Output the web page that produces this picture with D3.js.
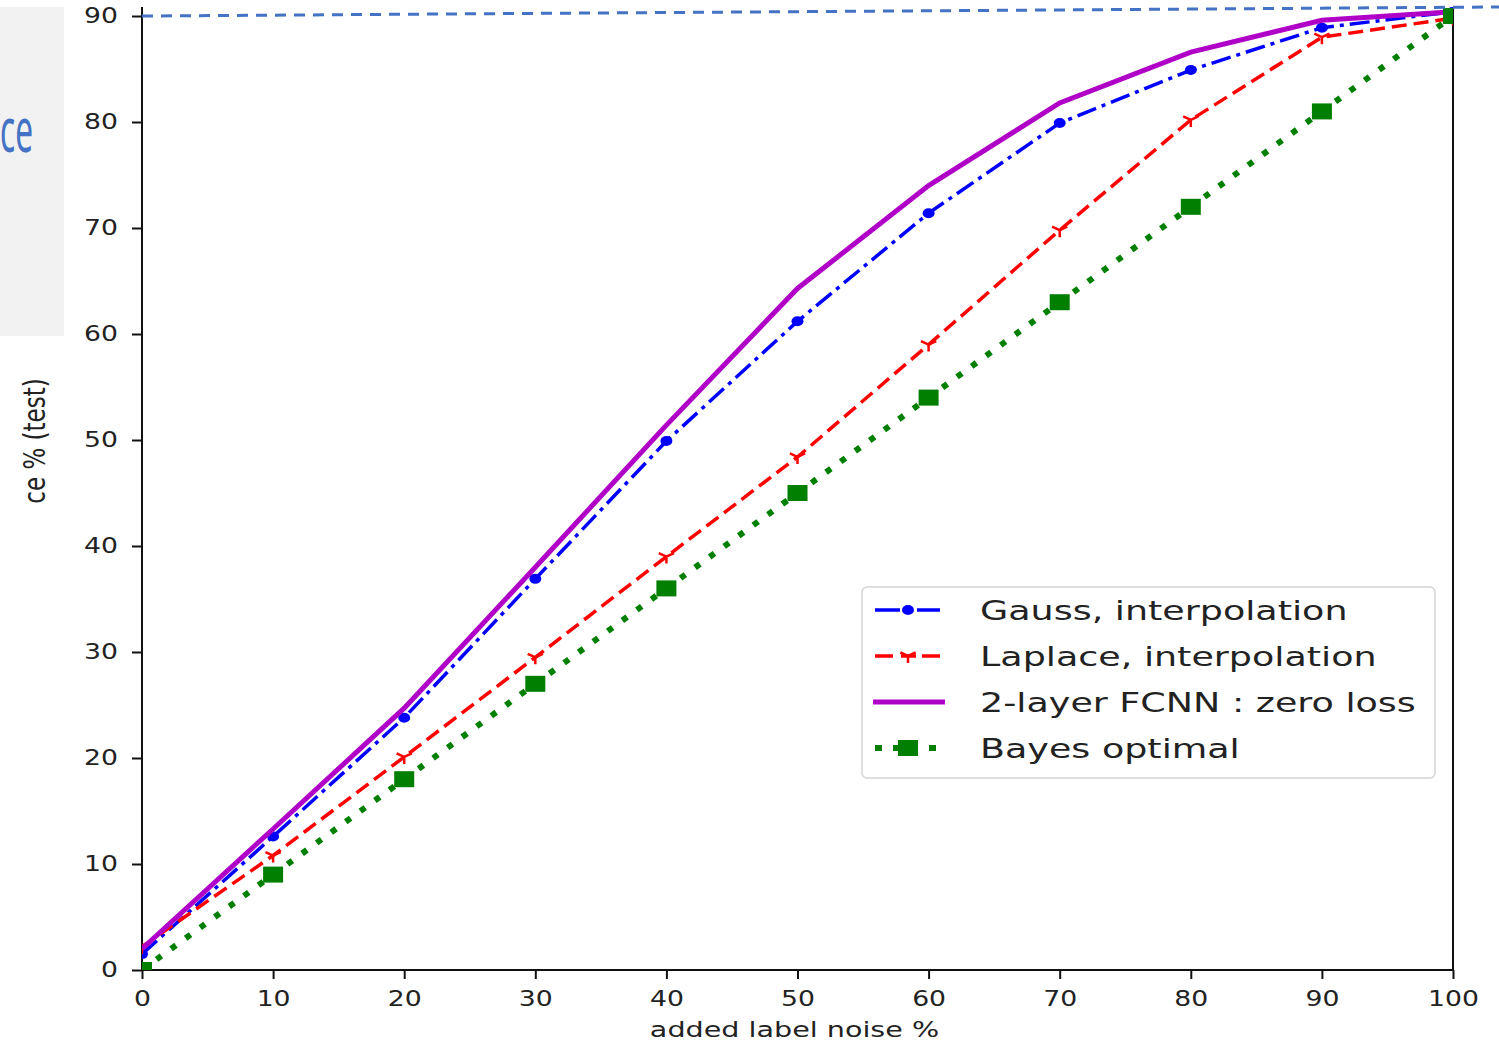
<!DOCTYPE html>
<html>
<head>
<meta charset="utf-8">
<script src="https://cdn.jsdelivr.net/npm/d3@7"></script>
<style>
  body { margin: 0; background: #fff; }
  svg { display: block; }
  text { font-family: "DejaVu Sans", sans-serif; fill: #222; }
</style>
</head>
<body>
<svg id="chart" width="1499" height="1041"></svg>
<script>
// values
const noise   = [0, 10, 20, 30, 40, 50, 60, 70, 80, 90, 100];
const gauss   = [1.5, 12.6, 23.8, 36.9, 49.9, 61.2, 71.4, 79.9, 84.9, 88.9, 90.4];
const laplace = [2.2, 10.8, 20.1, 29.5, 39.0, 48.4, 59.0, 69.8, 80.2, 88.0, 89.8];
const fcnn    = [2.0, 13.3, 24.7, 38.0, 51.4, 64.3, 74.0, 81.8, 86.6, 89.6, 90.4];
const bayes   = [0, 9, 18, 27, 36, 45, 54, 63, 72, 81, 90];
const seriesNames = ["Gauss, interpolation", "Laplace, interpolation", "2-layer FCNN : zero loss", "Bayes optimal"];
const xTicks = [0, 10, 20, 30, 40, 50, 60, 70, 80, 90, 100];
const yTicks = [0, 10, 20, 30, 40, 50, 60, 70, 80, 90];
const refLevel = 90;

const svg = d3.select("#chart");
const plot = { left: 142, right: 1453, top: 7, bottom: 970 };
const K = 1.3; // the picture is stretched sideways

const x = d3.scaleLinear().domain([0, 100]).range([plot.left, plot.right]);
const y = d3.scaleLinear().domain([0, 90.85]).range([plot.bottom, plot.top]);

// stretch text glyphs horizontally
function stretch(sel, k) {
  sel.each(function () {
    const w = this.getComputedTextLength();
    d3.select(this).attr("textLength", w * k).attr("lengthAdjust", "spacingAndGlyphs");
  });
}

// grey slide panel and its cropped title
svg.append("rect").attr("x", 0).attr("y", 7).attr("width", 64).attr("height", 329).attr("fill", "#f2f2f2");
svg.append("text").attr("x", 0).attr("y", 152)
  .attr("textLength", 33).attr("lengthAdjust", "spacingAndGlyphs")
  .style("font-family", "'Noto Sans', sans-serif").style("font-size", "62px").style("fill", "#4472c4")
  .text("ce");

svg.append("defs").append("clipPath").attr("id", "clip")
  .append("rect").attr("x", plot.left).attr("y", plot.top)
  .attr("width", plot.right - plot.left).attr("height", plot.bottom - plot.top);

// axes
const xAxis = svg.append("g").attr("transform", `translate(0,${plot.bottom})`)
  .call(d3.axisBottom(x).tickValues(xTicks).tickSize(9).tickPadding(12).tickSizeOuter(0));
const yAxis = svg.append("g").attr("transform", `translate(${plot.left},0)`)
  .call(d3.axisLeft(y).tickValues(yTicks).tickSize(10).tickPadding(14).tickSizeOuter(0));
[xAxis, yAxis].forEach(a => {
  a.select(".domain").remove();
  a.selectAll(".tick line").attr("stroke", "#111").attr("stroke-width", 2);
  a.selectAll(".tick text").style("font-size", "20.5px").style("fill", "#222")
    .style("font-family", "'DejaVu Sans', sans-serif");
  stretch(a.selectAll(".tick text"), K);
});

// spines (no top one)
const spines = svg.append("g").attr("stroke", "#111").attr("stroke-width", 2).attr("fill", "none");
spines.append("line").attr("x1", plot.left).attr("x2", plot.left).attr("y1", plot.top).attr("y2", plot.bottom + 1);
spines.append("line").attr("x1", plot.right).attr("x2", plot.right).attr("y1", plot.top).attr("y2", plot.bottom + 1);
spines.append("line").attr("x1", plot.left - 1).attr("x2", plot.right + 1).attr("y1", plot.bottom).attr("y2", plot.bottom);

// axis labels
const xl = svg.append("text").attr("x", (plot.left + plot.right) / 2 - 3).attr("y", 1037)
  .attr("text-anchor", "middle").style("font-size", "22px").text("added label noise %");
stretch(xl, K);
svg.append("text").attr("transform", `translate(45,441) scale(${K},1) rotate(-90)`)
  .attr("text-anchor", "middle").style("font-size", "23px").text("ce % (test)");

// series
const styles = [
  { values: gauss,   color: "#0000ff", width: 3.5, dash: "20,6,4,6", marker: "circle",
    legend: { x1: 875, x2: 940, dash: "25,17,23" } },
  { values: laplace, color: "#ff0000", width: 3.5, dash: "15,7",     marker: "tri",
    legend: { x1: 875, x2: 942, dash: "18,8,15,6" } },
  { values: fcnn,    color: "#b000c8", width: 5,   dash: null,       marker: null,
    legend: { x1: 873, x2: 945, dash: null } },
  { values: bayes,   color: "#007f00", width: 6,   dash: "6,12",     marker: "square",
    legend: { x1: 875, x2: 936, dash: "7,11" } }
];

const line = d3.line().x((d, i) => x(noise[i])).y(d => y(d));
const plotG = svg.append("g").attr("clip-path", "url(#clip)");

function drawMarker(g, type, color, cx, cy) {
  if (type === "circle") {
    g.append("ellipse").attr("cx", cx).attr("cy", cy).attr("rx", 6).attr("ry", 5).attr("fill", color);
  } else if (type === "square") {
    g.append("rect").attr("x", cx - 10).attr("y", cy - 8).attr("width", 20).attr("height", 16).attr("fill", color);
  } else if (type === "tri") {
    const r = 7;
    g.append("path")
      .attr("d", `M${cx},${cy}L${cx},${cy + r}M${cx},${cy}L${cx - 0.87 * r * 1.25},${cy - 0.5 * r}M${cx},${cy}L${cx + 0.87 * r * 1.25},${cy - 0.5 * r}`)
      .attr("stroke", color).attr("stroke-width", 2.5).attr("fill", "none");
  }
}

styles.forEach(s => {
  const g = plotG.append("g");
  g.append("path").datum(s.values).attr("d", line)
    .attr("fill", "none").attr("stroke", s.color).attr("stroke-width", s.width)
    .attr("stroke-dasharray", s.dash);
  if (s.marker) s.values.forEach((v, i) => drawMarker(g, s.marker, s.color, x(noise[i]), y(v)));
});

// dashed reference line at the top
svg.append("line").attr("x1", x(0)).attr("y1", y(refLevel)).attr("x2", 1499).attr("y2", y(refLevel) - 9)
  .attr("stroke", "#4472c4").attr("stroke-width", 3).attr("stroke-dasharray", "11,8");

// legend
const lg = svg.append("g");
lg.append("rect").attr("x", 862).attr("y", 587).attr("width", 573).attr("height", 191).attr("rx", 5)
  .attr("fill", "#fff").attr("fill-opacity", 0.85).attr("stroke", "#d4d4d4").attr("stroke-width", 1.5);
styles.forEach((s, i) => {
  const cy = 610 + i * 46;
  lg.append("line").attr("x1", s.legend.x1).attr("x2", s.legend.x2).attr("y1", cy).attr("y2", cy)
    .attr("stroke", s.color).attr("stroke-width", s.width).attr("stroke-dasharray", s.legend.dash);
  if (s.marker) drawMarker(lg, s.marker, s.color, 908, cy);
  const t = lg.append("text").attr("x", 980).attr("y", cy + 10).style("font-size", "27px").text(seriesNames[i]);
  stretch(t, 1.35);
});
</script>
</body>
</html>
